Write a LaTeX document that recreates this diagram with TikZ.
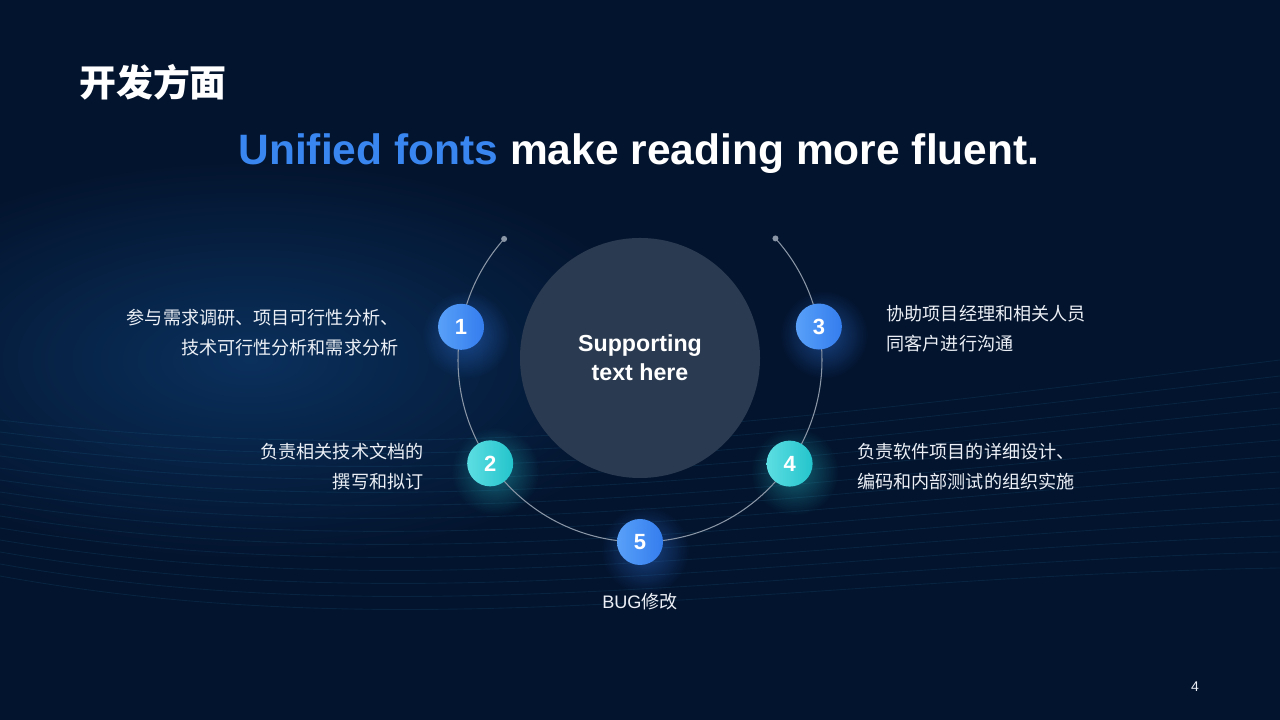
\documentclass[tikz,border=0pt]{standalone}
\usepackage{fontspec}
\setmainfont{Liberation Sans}
\newfontfamily\cjk{Noto Sans CJK SC}
\usepackage{tikz}
\usetikzlibrary{positioning, calc, fadings}
\definecolor{bgnavy}{RGB}{3,20,46}
\definecolor{bgglow}{RGB}{10,48,92}
\definecolor{wavecol}{RGB}{40,130,170}
\definecolor{hubgray}{RGB}{42,58,80}
\definecolor{ringgray}{RGB}{138,150,166}
\definecolor{numblue}{RGB}{52,125,238}
\definecolor{numbluelt}{RGB}{88,160,248}
\definecolor{numteal}{RGB}{36,196,204}
\definecolor{numteallt}{RGB}{92,222,226}
\definecolor{titleblue}{RGB}{58,134,240}
\definecolor{notewhite}{RGB}{236,240,246}
\tikzfading[name=softglow, inner color=transparent!0, outer color=transparent!100]
\tikzset{
  numball/.style={circle, minimum size=9.2mm, inner sep=0pt,
    font=\bfseries\fontsize{12.5}{14}\selectfont, text=white, shading=axis,
    shading angle=135},
  bluenum/.style={numball, left color=numbluelt, right color=numblue},
  tealnum/.style={numball, left color=numteallt, right color=numteal},
  hub/.style={circle, fill=hubgray, minimum size=48mm, inner sep=0pt,
    align=center, text=white, font=\bfseries\fontsize{13.2}{16.5}\selectfont},
  note/.style={inner sep=0pt, text=notewhite,
    font=\cjk\fontsize{10.3}{17}\selectfont},
  ring/.style={draw=ringgray, line width=0.6pt},
  wave/.style={draw=wavecol, line width=0.5pt, opacity=0.14},
  halo/.style={path fading=softglow, opacity=0.45}
}

\begin{document}
\begin{tikzpicture}[x=0.2mm, y=0.2mm]
  % background
  \fill[bgnavy] (0,0) rectangle (1280,720);
  \useasboundingbox (0,0) rectangle (1280,720);
  \shade[inner color=bgglow, outer color=bgnavy] (250,360) ellipse [x radius=420, y radius=200];
  \foreach \i in {0,...,13}
    \draw[wave] (0,300-\i*12) .. controls (420,250-\i*14) and (800,300-\i*12) .. (1280,360-\i*16);

  \node[anchor=west, text=white, font=\cjk\bfseries\fontsize{21}{24}\selectfont] (title) at (73,638) {开发方面};
  \node[font=\bfseries\fontsize{24.2}{28}\selectfont, text=white] (subtitle) at (639,566)
    {\textcolor{titleblue}{Unified fonts} make reading more fluent.};

  \coordinate (ctr) at (640,360);
  \node[hub] (core) at (640,362) {Supporting\\text here};

  % glows
  \foreach \a/\c in {169.5/numblue, 214.6/numteal, 270/numblue, 325.3/numteal, 10.6/numblue}
    \fill[\c, halo] ([shift={(\a:182)}]ctr) ++(5,-8) circle[radius=44];

  % ring with end dots
  \coordinate (dotL) at ([shift={(138.3:182)}]ctr);
  \coordinate (dotR) at ([shift={(41.9:182)}]ctr);
  \draw[ring] (dotL) arc[start angle=138.3, end angle=401.9, radius=182];
  \fill[ringgray] (dotL) circle[radius=3];
  \fill[ringgray] (dotR) circle[radius=3];

  \node[bluenum] (n1) at ([shift={(169.5:182)}]ctr) {1};
  \node[tealnum] (n2) at ([shift={(214.6:182)}]ctr) {2};
  \node[bluenum] (n3) at ([shift={(10.6:182)}]ctr) {3};
  \node[tealnum] (n4) at ([shift={(325.3:182)}]ctr) {4};
  \node[bluenum] (n5) at ([shift={(270:182)}]ctr) {5};

  \node[note, align=right, left=7.8mm of n1, yshift=-1.2mm] (t1) {参与需求调研、项目可行性分析、\\技术可行性分析和需求分析};
  \node[note, align=right, left=8.6mm of n2, yshift=-0.6mm] (t2) {负责相关技术文档的\\撰写和拟订};
  \node[note, align=left, right=8.8mm of n3, yshift=-0.4mm] (t3) {协助项目经理和相关人员\\同客户进行沟通};
  \node[note, align=left, right=8.8mm of n4, yshift=-0.6mm] (t4) {负责软件项目的详细设计、\\编码和内部测试的组织实施};
  \node[note, below=5.6mm of n5] (t5) {{\rmfamily BUG}修改};

  \node[text=notewhite, font=\fontsize{8}{9}\selectfont] (page) at (1195,33) {4};
\end{tikzpicture}
\end{document}
